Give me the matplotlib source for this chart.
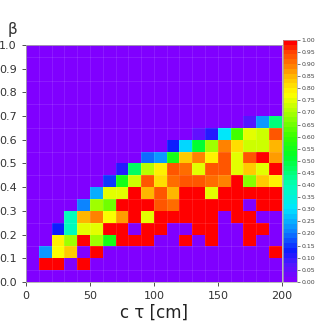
import matplotlib
matplotlib.use('Agg')
import matplotlib.pyplot as plt
from matplotlib.colors import LinearSegmentedColormap
import numpy as np

# bin edges
x_edges = np.arange(0, 201, 10)
y_edges = np.linspace(0, 1, 21)

# efficiency map, rows = beta bins (bottom to top), cols = c tau bins
rows = {
    1: {1: 1.0, 2: 1.0, 4: 1.0},
    2: {1: 0.22, 2: 0.77, 3: 0.82, 5: 1.0, 19: 1.0},
    3: {2: 0.78, 3: 0.68, 4: 1.0, 5: 0.68, 6: 0.55, 7: 1.0, 8: 1.0, 9: 1.0,
        12: 1.0, 14: 1.0, 17: 1.0},
    4: {2: 0.13, 3: 0.38, 4: 0.75, 5: 0.75, 6: 1.0, 7: 1.0, 9: 1.0, 10: 1.0,
        13: 1.0, 14: 1.0, 17: 1.0, 18: 1.0},
    5: {3: 0.38, 4: 0.85, 5: 0.88, 6: 0.76, 7: 0.87, 8: 1.0, 9: 0.75, 10: 1.0,
        11: 1.0, 12: 1.0, 13: 1.0, 14: 1.0, 16: 1.0, 17: 1.0},
    6: {4: 0.2, 5: 0.68, 6: 0.65, 7: 1.0, 8: 1.0, 9: 1.0, 10: 0.93, 11: 0.9,
        12: 1.0, 13: 1.0, 14: 1.0, 15: 1.0, 16: 1.0, 18: 1.0, 19: 1.0},
    7: {5: 0.25, 6: 0.75, 7: 0.75, 8: 1.0, 9: 0.85, 10: 0.92, 11: 0.85,
        12: 1.0, 13: 1.0, 14: 0.75, 15: 1.0, 16: 1.0, 17: 1.0, 18: 1.0, 19: 1.0},
    8: {6: 0.15, 7: 0.55, 8: 0.73, 9: 0.92, 10: 0.8, 11: 0.9, 12: 0.92,
        13: 0.92, 14: 0.91, 15: 0.88, 16: 1.0, 17: 0.67, 18: 0.82, 19: 0.78},
    9: {7: 0.1, 8: 0.47, 9: 0.7, 10: 0.78, 11: 0.93, 12: 0.91, 13: 0.75,
        14: 0.93, 15: 0.93, 16: 0.74, 17: 0.82, 18: 0.74, 19: 1.0},
    10: {9: 0.18, 10: 0.22, 11: 0.55, 12: 0.82, 13: 0.88, 14: 0.78, 15: 0.93,
         16: 0.74, 17: 0.93, 18: 1.0, 19: 0.86},
    11: {11: 0.12, 12: 0.28, 13: 0.5, 14: 0.68, 15: 0.88, 16: 0.8, 17: 0.72,
         18: 0.72, 19: 0.85},
    12: {13: 0.05, 14: 0.1, 15: 0.3, 16: 0.6, 17: 0.75, 18: 0.72, 19: 0.93},
    13: {17: 0.07, 18: 0.22, 19: 0.45},
}

eff = np.zeros((20, 20))
for j, cells in rows.items():
    for i, v in cells.items():
        eff[j, i] = v

# ROOT-like rainbow palette
stops = [(0.0, (0.5, 0.0, 1.0)), (0.07, (0.3, 0.1, 1.0)), (0.12, (0.05, 0.1, 1.0)),
         (0.2, (0.05, 0.5, 1.0)), (0.3, (0.0, 0.9, 1.0)), (0.4, (0.0, 1.0, 0.7)),
         (0.52, (0.0, 1.0, 0.15)), (0.6, (0.2, 1.0, 0.0)), (0.7, (0.65, 1.0, 0.0)),
         (0.78, (1.0, 1.0, 0.0)), (0.85, (1.0, 0.75, 0.0)), (0.9, (1.0, 0.5, 0.0)),
         (0.96, (1.0, 0.25, 0.0)), (1.0, (1.0, 0.0, 0.0))]
cmap = LinearSegmentedColormap.from_list('rootrainbow', stops, N=50)

fig = plt.figure(figsize=(3.24, 3.24), dpi=100)
ax = fig.add_axes([0.080, 0.130, 0.790, 0.731])
mesh = ax.pcolormesh(x_edges, y_edges, eff, cmap=cmap, vmin=0, vmax=1)

# faint bin seams
for xe in x_edges[1:-1]:
    ax.axvline(xe, color='white', alpha=0.12, lw=0.6)
for ye in y_edges[1:-1:2]:
    ax.axhline(ye, color='white', alpha=0.12, lw=0.6)

ax.set_xlim(0, 200)
ax.set_ylim(0, 1)
ax.set_xticks([0, 50, 100, 150, 200])
ax.set_yticks(np.arange(0, 1.01, 0.1))
ax.set_yticklabels(['%.1f' % v for v in np.arange(0, 1.01, 0.1)])
ax.tick_params(labelsize=8, colors='#333333', length=3, width=0.6)
for s in ax.spines.values():
    s.set_color('#aaaaaa')
    s.set_linewidth(0.6)
ax.set_xlabel('c τ [cm]', fontsize=12, color='#222222', labelpad=2)
fig.text(0.025, 0.895, 'β', fontsize=11, color='#333333')

cax = fig.add_axes([0.873, 0.130, 0.044, 0.747])
cb = fig.colorbar(mesh, cax=cax)
cb.set_ticks(np.arange(0, 1.001, 0.05))
cb.set_ticklabels(['%.2f' % v for v in np.arange(0, 1.001, 0.05)])
cb.ax.tick_params(labelsize=4.5, colors='#444444', length=2, width=0.5, pad=1)
cb.outline.set_linewidth(0.5)
cb.outline.set_edgecolor('#aaaaaa')

fig.savefig('out.png', dpi=100)
